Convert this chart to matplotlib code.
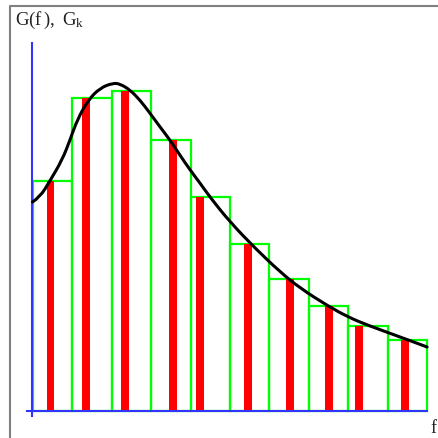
import matplotlib
matplotlib.use("Agg")
import matplotlib.pyplot as plt
from matplotlib.patches import Rectangle, PathPatch
from matplotlib.path import Path

plt.rcParams['mathtext.fontset'] = 'custom'
plt.rcParams['mathtext.rm'] = 'Liberation Serif'
plt.rcParams['mathtext.it'] = 'Liberation Serif'

# bin edges (f units) and histogram heights G_k
bin_edges = [0, 1, 2, 3, 4, 5, 6, 7, 8, 9, 10]
G_k = [2.305, 3.13, 3.20, 2.71, 2.14, 1.675, 1.32, 1.055, 0.855, 0.713]
# positions of the sample values f_k inside each bin
f_k = [0.456, 1.354, 2.342, 3.557, 4.241, 5.456, 6.519, 7.506, 8.266, 9.43]

# continuous spectrum G(f)
curve_f = [0.0, 0.19, 0.44, 0.75, 0.95, 1.13, 1.41, 1.71, 2.04, 2.22, 2.47,
           2.72, 2.97, 3.23, 3.48, 3.73, 3.99, 4.24, 4.49, 5.00, 5.63, 6.27,
           6.77, 7.48, 7.99, 8.47, 9.38, 9.99]
curve_G = [2.09, 2.14, 2.30, 2.51, 2.71, 2.91, 3.11, 3.23, 3.28, 3.27, 3.21,
           3.11, 2.98, 2.84, 2.71, 2.56, 2.41, 2.28, 2.14, 1.89, 1.63, 1.39,
           1.23, 1.05, 0.94, 0.86, 0.73, 0.64]

fig = plt.figure(figsize=(4.38, 4.38), dpi=100)
ax = fig.add_axes([0, 0, 1, 1])
ax.set_xlim(-0.823, 10.266)
ax.set_ylim(-0.27, 4.11)
ax.axis('off')

# outer frame (left and top edges)
ax.plot([-0.57, -0.57, 10.3], [-0.3, 4.05, 4.05], color='#808080', lw=1.5,
        clip_on=False)

# green bins
for i, g in enumerate(G_k):
    ax.add_patch(Rectangle((bin_edges[i], 0), bin_edges[i + 1] - bin_edges[i], g,
                           fill=False, edgecolor='#00ff00', lw=1.6, zorder=2))

# red bars
ax.bar(f_k, G_k, width=0.18, color='#ff0000', zorder=3)

# axes lines
ax.plot([-0.01, -0.01], [-0.05, 3.68], color='#3333ff', lw=1.5, zorder=4)
ax.plot([-0.14, 10.0], [0, 0], color='#3333ff', lw=1.5, zorder=4)

# smooth curve: quadratic Bezier segments through midpoints of the read points
pts = list(zip(curve_f, curve_G))
verts = [pts[0]]
codes = [Path.MOVETO]
for i in range(1, len(pts) - 1):
    p = pts[i]
    q = pts[i + 1]
    end = q if i == len(pts) - 2 else ((p[0] + q[0]) / 2, (p[1] + q[1]) / 2)
    verts += [p, end]
    codes += [Path.CURVE3, Path.CURVE3]
ax.add_patch(PathPatch(Path(verts, codes), fill=False, edgecolor='black',
                       lw=2.2, zorder=5, capstyle='round', joinstyle='round'))

ax.text(-0.44, 3.86, r'$\mathrm{G(f\,),\ G_k}$', fontsize=13.5, va='baseline',
        ha='left', color='#222222')
ax.text(10.08, -0.22, 'f', family='Liberation Serif', fontsize=13,
        va='baseline', ha='left', color='#222222')

fig.savefig('out.png', dpi=100)
